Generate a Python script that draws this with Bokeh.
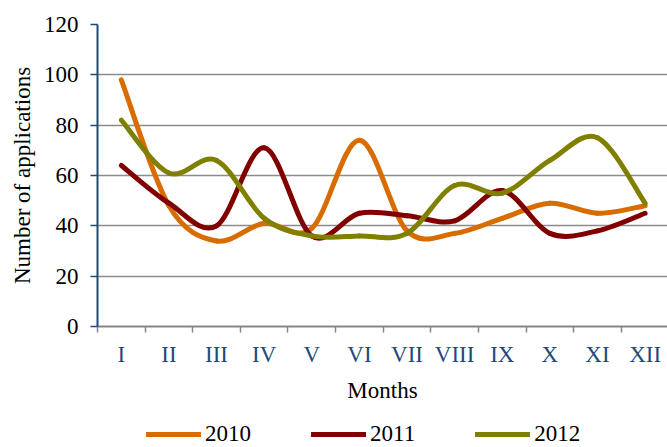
from bokeh.plotting import figure
from bokeh.layouts import column
from bokeh.models import Range1d, FixedTicker, Legend, LegendItem
from bokeh.embed import file_html
from bokeh.resources import INLINE

months = ["I", "II", "III", "IV", "V", "VI", "VII", "VIII", "IX", "X", "XI", "XII"]
years = ["2010", "2011", "2012"]
s2010 = [98, 48, 34, 41, 39, 74, 38, 37, 43, 49, 45, 48]
s2011 = [64, 49, 40, 71, 36, 45, 44, 42, 54, 37, 38, 45]
s2012 = [82, 61, 66, 43, 36, 36, 37, 56, 53, 66, 75, 49]
y_ticks = [0, 20, 40, 60, 80, 100, 120]

colors = ["#D96C00", "#800000", "#808000"]
FONT = "Liberation Serif"

p = figure(width=667, height=415, output_backend="svg", toolbar_location=None,
           x_range=Range1d(0.5, 12.47), y_range=Range1d(0, 120),
           min_border_left=97, min_border_right=0, min_border_top=24,
           min_border_bottom=89)
p.outline_line_color = None
p.background_fill_color = "white"
p.border_fill_color = "white"

xs = list(range(1, len(months) + 1))


def bezier_segments(ys, t=1.0 / 6.0):
    n = len(ys)
    x0, y0, x1, y1, cx0, cy0, cx1, cy1 = [], [], [], [], [], [], [], []
    for i in range(n - 1):
        im1 = max(i - 1, 0)
        ip2 = min(i + 2, n - 1)
        x0.append(xs[i]); y0.append(ys[i])
        x1.append(xs[i + 1]); y1.append(ys[i + 1])
        cx0.append(xs[i] + (xs[i + 1] - xs[im1]) * t)
        cy0.append(ys[i] + (ys[i + 1] - ys[im1]) * t)
        cx1.append(xs[i + 1] - (xs[ip2] - xs[i]) * t)
        cy1.append(ys[i + 1] - (ys[ip2] - ys[i]) * t)
    return dict(x0=x0, y0=y0, x1=x1, y1=y1, cx0=cx0, cy0=cy0, cx1=cx1, cy1=cy1)


for name, ys, c in zip(years, [s2010, s2011, s2012], colors):
    p.bezier(source=bezier_segments(ys), x0="x0", y0="y0", x1="x1", y1="y1",
             cx0="cx0", cy0="cy0", cx1="cx1", cy1="cy1",
             line_color=c, line_width=5, line_cap="round")

# grid
p.xgrid.grid_line_color = None
p.ygrid.grid_line_color = "#8C8C8C"
p.ygrid.grid_line_width = 1.5
p.yaxis.ticker = FixedTicker(ticks=y_ticks)

# y axis
p.yaxis.axis_line_color = "#1F497D"
p.yaxis.axis_line_width = 2
p.yaxis.major_tick_line_color = "#1F497D"
p.yaxis.major_tick_line_width = 1.5
p.yaxis.major_tick_out = 7
p.yaxis.major_tick_in = 0
p.yaxis.minor_tick_line_color = None
p.yaxis.major_label_standoff = 12
p.yaxis.major_label_text_font = FONT
p.yaxis.major_label_text_font_size = "23px"
p.yaxis.major_label_text_color = "black"
p.yaxis.axis_label = "Number of applications"
p.yaxis.axis_label_text_font = FONT
p.yaxis.axis_label_text_font_size = "23px"
p.yaxis.axis_label_text_font_style = "normal"
p.yaxis.axis_label_text_color = "black"
p.yaxis.axis_label_standoff = 6

# x axis
p.xaxis.ticker = FixedTicker(ticks=xs, minor_ticks=[x - 0.5 for x in xs] + [12.5])
p.xaxis.major_label_overrides = {x: m for x, m in zip(xs, months)}
p.xaxis.axis_line_color = "#868686"
p.xaxis.axis_line_width = 2
p.xaxis.major_tick_line_color = None
p.xaxis.major_tick_out = 6
p.xaxis.major_tick_in = 0
p.xaxis.minor_tick_line_color = "#868686"
p.xaxis.minor_tick_line_width = 1.5
p.xaxis.minor_tick_out = 6
p.xaxis.minor_tick_in = 0
p.xaxis.major_label_standoff = 9
p.xaxis.major_label_text_font = FONT
p.xaxis.major_label_text_font_size = "23px"
p.xaxis.major_label_text_color = "#1F497D"
p.xaxis.axis_label = "Months"
p.xaxis.axis_label_text_font = FONT
p.xaxis.axis_label_text_font_size = "23px"
p.xaxis.axis_label_text_font_style = "normal"
p.xaxis.axis_label_text_color = "black"
p.xaxis.axis_label_standoff = 8

# legend strip below the chart
pl = figure(width=667, height=32, output_backend="svg", toolbar_location=None,
            x_range=Range1d(0.5, 12.47), y_range=Range1d(1000, 1001),
            x_axis_type=None, y_axis_type=None,
            min_border_left=0, min_border_right=0, min_border_top=0,
            min_border_bottom=0)
pl.outline_line_color = None
pl.grid.grid_line_color = None
items = []
for name, ys, c in zip(years, [s2010, s2011, s2012], colors):
    r = pl.line(xs, ys, line_color=c, line_width=5, line_cap="round")
    items.append(LegendItem(label=name, renderers=[r]))

legend = Legend(items=items, orientation="horizontal", location=(49, 0),
                glyph_width=55, glyph_height=10, label_standoff=4, spacing=60,
                padding=0, margin=0, border_line_color=None,
                background_fill_alpha=0,
                label_text_font=FONT, label_text_font_size="23px",
                label_text_color="black")
pl.add_layout(legend, "center")

layout = column(p, pl, spacing=0)
open("out.html", "w").write(file_html(layout, INLINE))
